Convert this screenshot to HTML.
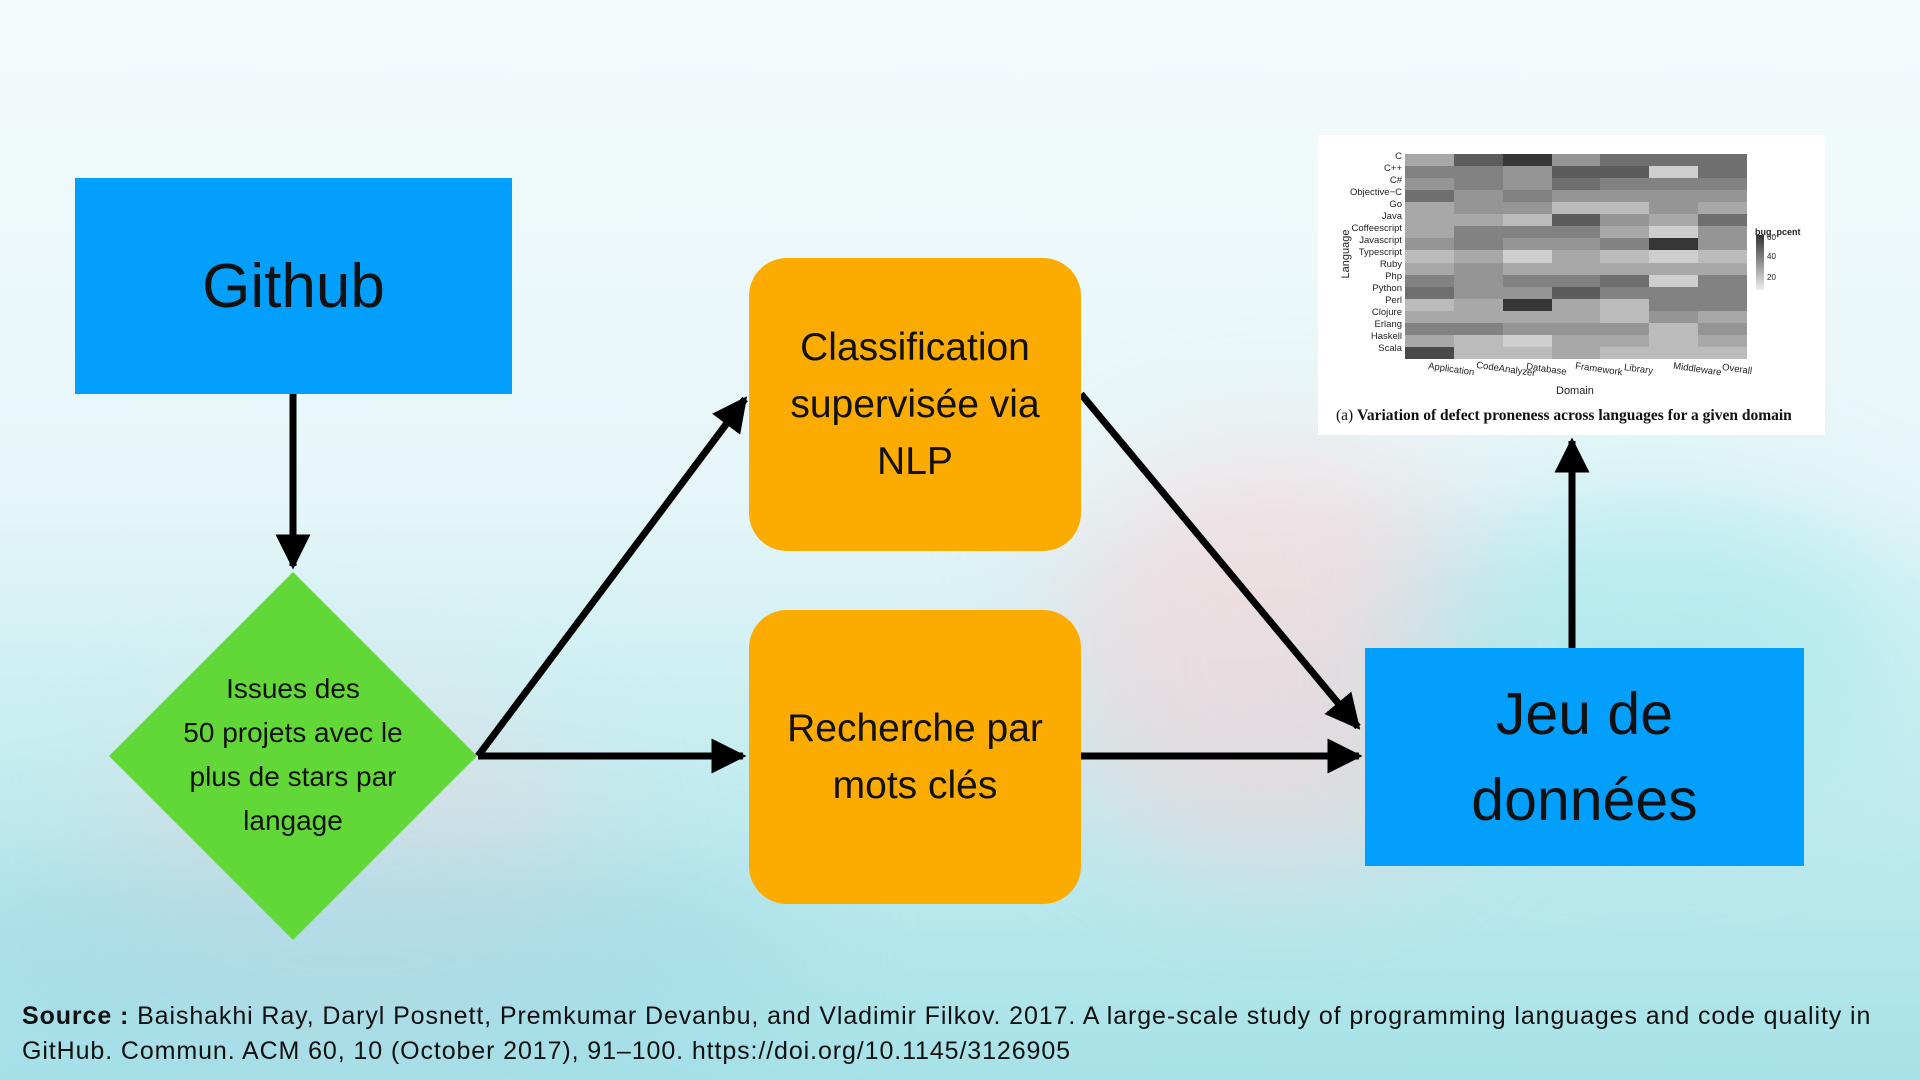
<!DOCTYPE html>
<html><head><meta charset="utf-8"><style>
html,body{margin:0;padding:0;width:1920px;height:1080px;overflow:hidden}
body{position:relative;font-family:"Liberation Sans",sans-serif;
background:linear-gradient(180deg,#f3fbfc 0%,#e6f6f8 45%,#c6edf0 70%,#a6e2e8 100%);}
.blob{position:absolute;border-radius:50%;filter:blur(60px)}
.box{position:absolute;display:flex;align-items:center;justify-content:center;text-align:center;color:#111}
.hm{position:absolute;left:1405px;top:154px;width:342px;height:205px;display:grid;grid-template-columns:repeat(7,1fr);grid-template-rows:repeat(17,1fr)}
.lab{position:absolute;font-size:9.5px;color:#222;text-align:right;width:80px;left:1322px}
</style></head><body>
<div style="position:absolute;left:0;top:0;width:1920px;height:1080px;overflow:hidden">
<div class="blob" style="left:1050px;top:450px;width:450px;height:420px;background:rgba(250,205,210,0.55)"></div>
<div class="blob" style="left:100px;top:700px;width:500px;height:300px;background:rgba(240,215,220,0.45)"></div>
<div class="blob" style="left:-100px;top:850px;width:900px;height:220px;background:rgba(160,215,230,0.6)"></div>
<div class="blob" style="left:1400px;top:500px;width:500px;height:300px;background:rgba(160,230,235,0.6)"></div>
</div>

<svg style="position:absolute;left:0;top:0" width="1920" height="1080">
<defs><marker id="a" viewBox="0 0 10 10" refX="9" refY="5" markerWidth="5" markerHeight="5" orient="auto-start-reverse" markerUnits="strokeWidth"><path d="M0,0 L10,5 L0,10 z" fill="#000"/></marker></defs>
<g stroke="#000" stroke-width="7" fill="none">
<line x1="293" y1="394" x2="293" y2="566" marker-end="url(#a)"/>
<line x1="478" y1="756" x2="745" y2="399" marker-end="url(#a)"/>
<line x1="478" y1="756" x2="743" y2="756" marker-end="url(#a)"/>
<line x1="1081" y1="394" x2="1358" y2="727" marker-end="url(#a)"/>
<line x1="1081" y1="756" x2="1359" y2="756" marker-end="url(#a)"/>
<line x1="1572" y1="648" x2="1572" y2="441" marker-end="url(#a)"/>
</g>
<polygon points="293,572 477,756 293,940 109,756" fill="#62d838"/>
</svg>

<div class="box" style="left:75px;top:178px;width:437px;height:216px;background:#02a0fc;font-size:62px">Github</div>
<div class="box" style="left:109px;top:660px;width:368px;height:190px;font-size:28px;line-height:44px">Issues des<br>50 projets avec le<br>plus de stars par<br>langage</div>
<div class="box" style="left:749px;top:258px;width:332px;height:293px;background:#fcab00;border-radius:38px;font-size:39px;line-height:57px">Classification<br>supervisée via<br>NLP</div>
<div class="box" style="left:749px;top:610px;width:332px;height:294px;background:#fcab00;border-radius:38px;font-size:39px;line-height:57px">Recherche par<br>mots clés</div>
<div class="box" style="left:1365px;top:648px;width:439px;height:218px;background:#02a0fc;font-size:59px;line-height:86px">Jeu de<br>données</div>

<div style="position:absolute;left:1318px;top:135px;width:507px;height:300px;background:#fff"></div>
<div id="hm2" class="hm"></div>
<div style="position:absolute;left:1296px;top:248px;transform:rotate(-90deg);font-size:11px;color:#222;width:100px;text-align:center">Language</div>
<div class="lab" style="top:151px">C</div><div class="lab" style="top:163px">C++</div><div class="lab" style="top:175px">C#</div><div class="lab" style="top:187px">Objective−C</div><div class="lab" style="top:199px">Go</div><div class="lab" style="top:211px">Java</div><div class="lab" style="top:223px">Coffeescript</div><div class="lab" style="top:235px">Javascript</div><div class="lab" style="top:247px">Typescript</div><div class="lab" style="top:259px">Ruby</div><div class="lab" style="top:271px">Php</div><div class="lab" style="top:283px">Python</div><div class="lab" style="top:295px">Perl</div><div class="lab" style="top:307px">Clojure</div><div class="lab" style="top:319px">Erlang</div><div class="lab" style="top:331px">Haskell</div><div class="lab" style="top:343px">Scala</div>
<div style="position:absolute;top:364px;left:1428px;font-size:9.5px;color:#222;transform:rotate(8deg)">Application</div>
<div style="position:absolute;top:364px;left:1476px;font-size:9.5px;color:#222;transform:rotate(8deg)">CodeAnalyzer</div>
<div style="position:absolute;top:364px;left:1526px;font-size:9.5px;color:#222;transform:rotate(8deg)">Database</div>
<div style="position:absolute;top:364px;left:1575px;font-size:9.5px;color:#222;transform:rotate(8deg)">Framework</div>
<div style="position:absolute;top:364px;left:1624px;font-size:9.5px;color:#222;transform:rotate(8deg)">Library</div>
<div style="position:absolute;top:364px;left:1673px;font-size:9.5px;color:#222;transform:rotate(8deg)">Middleware</div>
<div style="position:absolute;top:364px;left:1722px;font-size:9.5px;color:#222;transform:rotate(8deg)">Overall</div>
<div style="position:absolute;top:385px;left:1556px;font-size:11px;color:#222">Domain</div>
<div style="position:absolute;top:227px;left:1755px;font-size:9px;font-weight:bold;color:#222">bug_pcent</div>
<div style="position:absolute;top:235px;left:1756px;width:8px;height:55px;background:linear-gradient(#333,#eee)"></div>
<div style="position:absolute;top:233px;left:1767px;font-size:8px;color:#222">60</div>
<div style="position:absolute;top:252px;left:1767px;font-size:8px;color:#222">40</div>
<div style="position:absolute;top:273px;left:1767px;font-size:8px;color:#222">20</div>
<div style="position:absolute;top:407px;left:1336px;font-size:15.5px;font-family:'Liberation Serif',serif;color:#111">(a) <b>Variation of defect proneness across languages for a given domain</b></div>
<script>
var d=[[3,7,9,4,6,6,6],[5,5,4,7,7,1,6],[4,5,4,6,5,5,5],[6,4,5,4,4,4,4],[3,4,4,2,2,4,3],[3,3,2,7,4,3,6],[3,5,5,5,3,1,4],[4,5,4,4,5,9,4],[2,3,1,3,2,1,2],[3,4,3,3,3,3,3],[5,4,5,5,6,1,5],[6,4,4,7,5,5,5],[2,3,9,3,2,5,5],[3,3,3,3,2,4,3],[5,5,4,4,4,2,4],[3,2,1,3,3,2,3],[8,2,2,3,2,2,2]];
var h='';d.forEach(function(r){r.forEach(function(v){var g=225-v*19;h+='<div style="background:rgb('+g+','+g+','+g+')"></div>';});});
document.getElementById('hm2').innerHTML=h;
</script>

<div style="position:absolute;left:22px;top:999px;width:1895px;font-size:25px;letter-spacing:0.9px;line-height:35px;color:#111">
<b>Source :</b> Baishakhi Ray, Daryl Posnett, Premkumar Devanbu, and Vladimir Filkov. 2017. A large-scale study of programming languages and code quality in<br>GitHub. Commun. ACM 60, 10 (October 2017), 91–100. https://doi.org/10.1145/3126905</div>
</body></html>
